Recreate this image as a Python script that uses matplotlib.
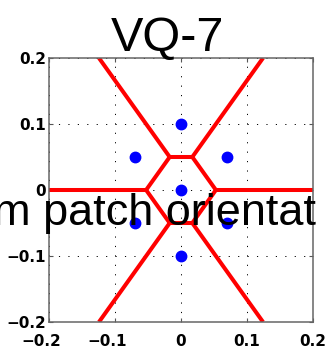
import matplotlib
matplotlib.use("Agg")
import matplotlib.pyplot as plt
import matplotlib.transforms as mtransforms
import numpy as np

# codebook vectors (VQ with 7 centroids)
cx = [0.0, 0.0, 0.0, -0.07, 0.07, -0.07, 0.07]
cy = [0.0, 0.1, -0.1, 0.05, 0.05, -0.05, -0.05]
lim = [-0.2, 0.2]
ticks = [-0.2, -0.1, 0, 0.1, 0.2]
tick_labels = ["\u22120.2", "\u22120.1", "0", "0.1", "0.2"]


def voronoi_edges(px, py, lo, hi):
    # clip every perpendicular bisector against the other cells and the box
    P = np.column_stack([px, py])
    segs = []
    n = len(P)
    for i in range(n):
        for j in range(i + 1, n):
            m = (P[i] + P[j]) / 2
            v = P[j] - P[i]
            d = np.array([-v[1], v[0]])
            t0, t1 = -1e9, 1e9
            # box limits
            for ax_ in range(2):
                if abs(d[ax_]) < 1e-12:
                    if m[ax_] < lo or m[ax_] > hi:
                        t0, t1 = 1, 0
                    continue
                a = (lo - m[ax_]) / d[ax_]
                b = (hi - m[ax_]) / d[ax_]
                t0, t1 = max(t0, min(a, b)), min(t1, max(a, b))
            # stay closer to i than to any other point k
            for k in range(n):
                if k in (i, j):
                    continue
                w = 2 * (P[k] - P[i])
                c = P[k] @ P[k] - P[i] @ P[i]
                a = w @ d
                b = c - w @ m
                if abs(a) < 1e-12:
                    if b < 0:
                        t0, t1 = 1, 0
                elif a > 0:
                    t1 = min(t1, b / a)
                else:
                    t0 = max(t0, b / a)
            if t1 - t0 > 1e-9:
                segs.append((m + t0 * d, m + t1 * d))
    return segs


fig = plt.figure(figsize=(3.27, 3.49), dpi=100)
ax = fig.add_axes([49 / 327, 27 / 349, 264 / 327, 264 / 349])

for p0, p1 in voronoi_edges(cx, cy, lim[0], lim[1]):
    ax.plot([p0[0], p1[0]], [p0[1], p1[1]], color="#ff0000", lw=2.9, solid_capstyle="butt", zorder=2)
ax.plot(cx, cy, "o", color="#0000ff", ms=7.5, mec="#0000ff", zorder=3)

ax.set_xlim(lim)
ax.set_ylim(lim)
ax.set_xticks(ticks)
ax.set_yticks(ticks)
ax.set_xticklabels(tick_labels)
ax.set_yticklabels(tick_labels)
ax.tick_params(direction="in", length=3, width=0.8, color="#555555",
               top=True, right=True, pad=2)
ax.tick_params(axis="x", pad=9)
for lab in ax.get_xticklabels() + ax.get_yticklabels():
    lab.set_fontfamily("DejaVu Sans")
    lab.set_fontweight("bold")
    lab.set_fontsize(11)
# negative x labels hang their minus sign to the left of the tick
shift = mtransforms.ScaledTranslation(-8 / 100, 0, fig.dpi_scale_trans)
for val, lab in zip(ticks, ax.get_xticklabels()):
    if val < 0:
        lab.set_transform(lab.get_transform() + shift)
ax.grid(True, color="black", linewidth=0.7, linestyle=(0, (1.2, 8.5)))
for s in ax.spines.values():
    s.set_color("#666666")
    s.set_linewidth(1.1)

fig.text(168 / 327, 1 - 51 / 349, "VQ-7", ha="center", va="baseline",
         fontsize=35, family="Liberation Sans")
fig.text(316 / 327, 1 - 225 / 349, "m patch orientat", ha="right", va="baseline",
         fontsize=32.5, family="Liberation Sans")

fig.savefig("out.png", dpi=100)
